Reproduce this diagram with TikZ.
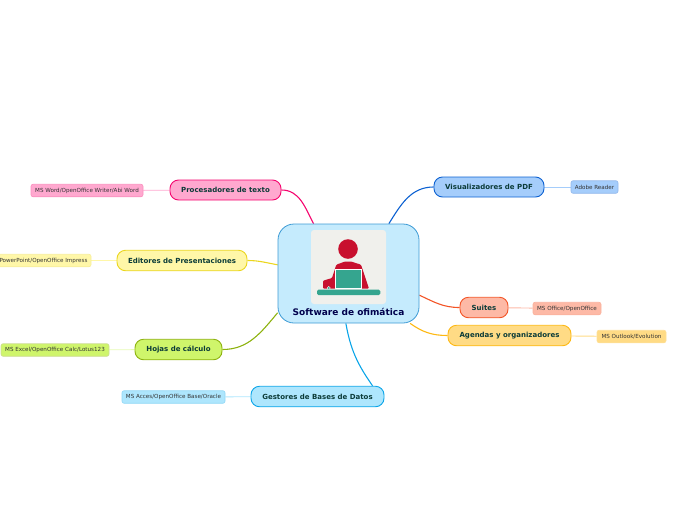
\documentclass[tikz,border=0pt]{standalone}
\usepackage{fontspec}
\setmainfont{DejaVu Sans}
\usetikzlibrary{backgrounds}
\definecolor{rootFill}{HTML}{C5EBFD}
\definecolor{rootLine}{HTML}{3D9BD5}
\definecolor{procFill}{HTML}{FFA8CF}
\definecolor{procLine}{HTML}{F5066F}
\definecolor{ediFill}{HTML}{FFF7A8}
\definecolor{ediLine}{HTML}{EBD61E}
\definecolor{hojFill}{HTML}{CFF56B}
\definecolor{hojLine}{HTML}{8DB20E}
\definecolor{gesFill}{HTML}{AEE6FD}
\definecolor{gesLine}{HTML}{0BA5E8}
\definecolor{visFill}{HTML}{A5CDFB}
\definecolor{visLine}{HTML}{0E62D2}
\definecolor{suiFill}{HTML}{FDB9A6}
\definecolor{suiLine}{HTML}{F35426}
\definecolor{ageFill}{HTML}{FFDB85}
\definecolor{ageLine}{HTML}{FDB813}
\definecolor{inkDark}{HTML}{0B3B38}
\definecolor{iconBack}{HTML}{F0F0EC}
\definecolor{iconRed}{HTML}{C8102E}
\definecolor{iconTeal}{HTML}{35A58F}
\tikzset{
  branch/.style={rounded corners=8.5pt, line width=0.9pt, inner sep=0pt, text=inkDark,
    font=\fontsize{7}{8}\selectfont\bfseries},
  leaf/.style={rounded corners=2pt, line width=0.6pt, inner sep=0pt, text=black!80,
    font=\fontsize{5.6}{6}\selectfont},
  link/.style={line width=1.1pt},
  sublink/.style={line width=0.9pt}
}
\begin{document}
\begin{tikzpicture}[x=1pt, y=-1pt]
  \useasboundingbox (0,0) rectangle (696,520);
  \node[draw=rootLine, fill=rootFill, line width=0.8pt, rounded corners=16pt, minimum width=141pt, minimum height=99pt, inner sep=0pt] (root) at (348.5,273.5) {};
  \node[font=\fontsize{9}{10}\selectfont\bfseries, text=blue!30!black, inner sep=0pt] (rootlabel) at (348.5,311.5) {Software de ofimática};
  % icon
  \fill[iconBack, rounded corners=3pt] (311,230) rectangle (386,304);
  \fill[iconRed] (348,249) circle (9.8);
  \fill[iconRed, rounded corners=1pt] (336.3,264.7) -- (345,261.5) -- (351,261.5) -- (361,264.7) -- (369,288.5) -- (323,288.5) -- (323,280.7) -- (332,278) -- cycle;
  \draw[white, line width=0.7pt, fill=iconTeal] (335.5,269) rectangle (361.8,288.5);
  \draw[white, line width=0.4pt, fill=iconTeal] (328.7,288) circle (1.6);
  \fill[iconTeal, rounded corners=1.5pt] (317,289.7) rectangle (380.3,295);
  % branches
  \foreach \nm/\px/\py/\w/\h/\col/\lab in {
    proc/225.5/190/111/20/proc/Procesadores de texto,
    edi/182/260.5/130/20.5/edi/Editores de Presentaciones,
    hoj/178.5/349.5/87/20.5/hoj/Hojas de cálculo,
    ges/317.5/396.5/133/20.5/ges/Gestores de Bases de Datos,
    vis/489/187/110/20/vis/Visualizadores de PDF,
    sui/484/307.5/48/20.5/sui/Suites,
    age/509.5/335.5/123/20.5/age/Agendas y organizadores} {
    \node[branch, draw=\col Line, fill=\col Fill, minimum width=\w pt, minimum height=\h pt] (\nm) at (\px,\py) {\lab};
  }
  % leaves
  \foreach \nm/\px/\py/\w/\col/\lab in {
    wordleaf/87/190.5/112/proc/{MS Word/OpenOffice Writer/Abi Word},
    pptleaf/43.5/260.5/95/edi/{PowerPoint/OpenOffice Impress},
    excelleaf/55/350/108/hoj/{MS Excel/OpenOffice Calc/Lotus123},
    accesleaf/173.5/397/103/ges/{MS Acces/OpenOffice Base/Oracle},
    adobeleaf/594.5/187/47/vis/{Adobe Reader},
    officeleaf/567/308.5/68/sui/{MS Office/OpenOffice},
    outlookleaf/631.5/336.5/69/age/{MS Outlook/Evolution}} {
    \node[leaf, draw=\col Line!45, fill=\col Fill, minimum width=\w pt, minimum height=12.5pt] (\nm) at (\px,\py) {\lab};
  }
  \begin{scope}[on background layer]
    \draw[link, procLine] (proc.east) to[out=0, in=118] (root.125);
    \draw[link, ediLine] (edi.east) to[out=0, in=170] (root.173);
    \draw[link, hojLine] (hoj.east) to[out=0, in=-130] (root.209);
    \draw[link, gesLine] (ges.11) to[out=125, in=-80] (root.267);
    \draw[link, visLine] (vis.west) to[out=180, in=58] (root.51);
    \draw[link, suiLine] (sui.west) to[out=180, in=-25] (root.-17);
    \draw[link, ageLine] (age.west) to[out=180, in=-35] (root.-39.5);
    \draw[sublink, procFill] (wordleaf) -- (proc);
    \draw[sublink, ediFill] (pptleaf) -- (edi);
    \draw[sublink, hojFill!50!white] (excelleaf) -- (hoj);
    \draw[sublink, gesFill] (accesleaf) -- (ges);
    \draw[sublink, visFill] (adobeleaf) -- (vis);
    \draw[sublink, suiFill] (officeleaf) -- (sui);
    \draw[sublink, ageFill] (outlookleaf) -- (age);
  \end{scope}
\end{tikzpicture}
\end{document}
